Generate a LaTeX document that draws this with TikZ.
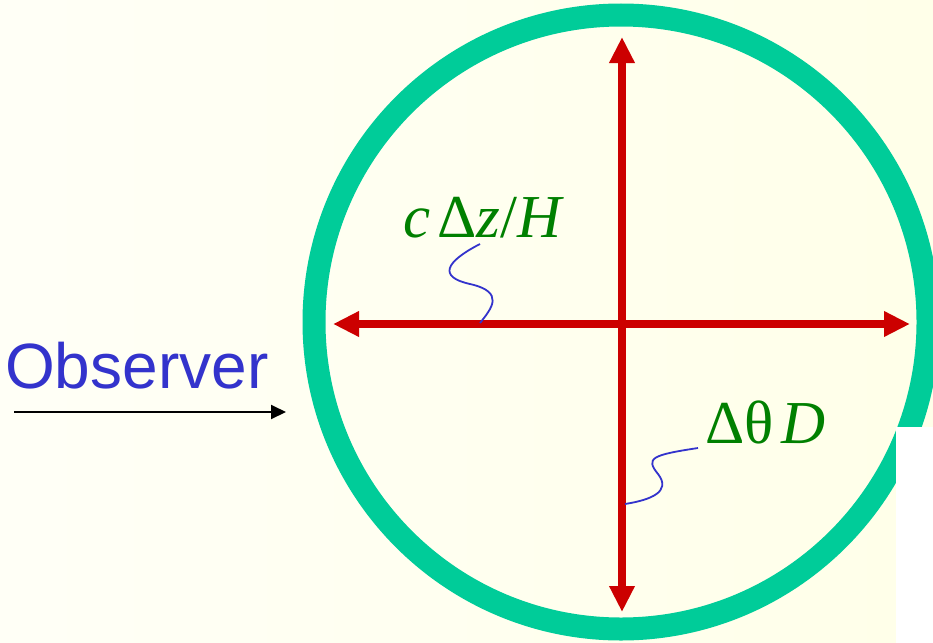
\documentclass[tikz,border=0pt]{standalone}
\usepackage{fontspec}
\setmainfont{Liberation Serif}
\newfontfamily\arialfont{Liberation Sans}
\usetikzlibrary{arrows.meta}
\definecolor{ringgreen}{RGB}{0,204,153}
\definecolor{arrowred}{RGB}{204,0,0}
\definecolor{labelgreen}{RGB}{0,128,0}
\definecolor{obsblue}{RGB}{51,51,204}
\definecolor{bgA}{RGB}{255,255,251}
\definecolor{bgB}{RGB}{255,255,228}
\tikzset{
  ring/.style={draw=ringgreen, line width=23pt},
  axisarrow/.style={draw=arrowred, line width=7.5pt, {Triangle[width=24pt,length=26pt]}-{Triangle[width=24pt,length=26pt]}},
  leader/.style={draw=obsblue, line width=1.8pt},
  mathlabel/.style={text=labelgreen, font=\fontsize{61}{61}\selectfont, inner sep=0pt, anchor=base west},
  obslabel/.style={text=obsblue, font=\arialfont\fontsize{64}{64}\selectfont, inner sep=0pt, anchor=base west},
  viewarrow/.style={draw=black, line width=2pt, -{Triangle[width=14pt,length=15pt]}}
}
\begin{document}
\begin{tikzpicture}[x=1pt,y=-1pt]
\useasboundingbox (0,0) rectangle (933,642);
\clip (0,0) rectangle (933,642);
\shade[left color=bgA, right color=bgB] (-300,0) rectangle (1233,642);
% ring
\coordinate (c) at (621,322);
\draw[ring] (c) circle[radius=307];
% cover patch
\fill[white] (896,427) rectangle (940,650);
% axes
\coordinate (top) at (622,37);
\coordinate (bot) at (622,612);
\coordinate (lft) at (333,324);
\coordinate (rgt) at (910,324);
\draw[axisarrow] (bot) -- (top);
\draw[axisarrow] (lft) -- (rgt);
% labels
\node[mathlabel] (lz) at (403,237) {\textit{c}\hspace{7pt}Δ\textit{z}/\textit{H}};
\node[mathlabel] (lt) at (705,443) {Δθ\hspace{8pt}\textit{D}};
\node[obslabel] (obs) at (5,388) {Observer};
% leaders
\coordinate (z1) at (480,323);
\coordinate (z2) at (480,244);
\draw[leader] (z1) .. controls (492,308) and (505,292) .. (470,284) .. controls (438,277) and (445,262) .. (z2);
\coordinate (t1) at (625,504);
\coordinate (t2) at (698,448);
\draw[leader] (t1) .. controls (650,500) and (672,492) .. (658,474) .. controls (645,458) and (652,455) .. (t2);
% observer arrow
\coordinate (o1) at (14,412);
\coordinate (o2) at (286,412);
\draw[viewarrow] (o1) -- (o2);
\end{tikzpicture}
\end{document}
